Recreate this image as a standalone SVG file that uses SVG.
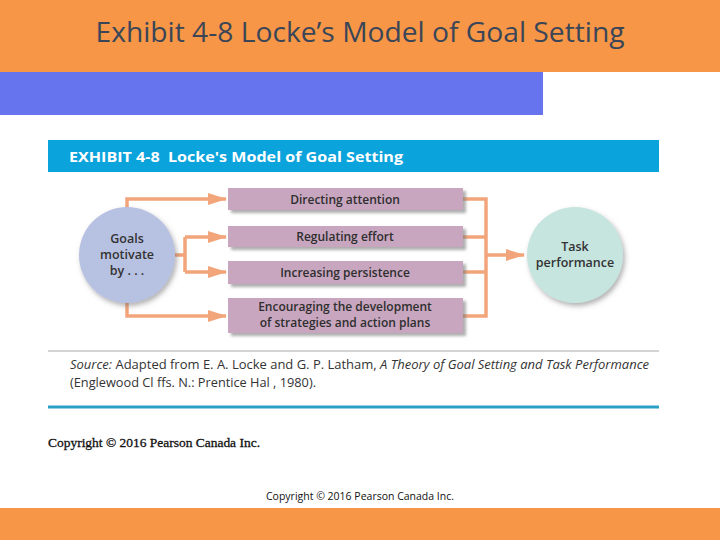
<svg xmlns="http://www.w3.org/2000/svg" width="720" height="540" viewBox="0 0 720 540">
<defs>
<style>
.box{fill:#c8a6bf;filter:url(#sh)}
.bt{font-family:"Open Sans","Liberation Sans",sans-serif;font-weight:600;font-size:12px;fill:#2e2e2e;text-anchor:middle}
.ct{font-family:"Open Sans","Liberation Sans",sans-serif;font-weight:600;font-size:12.5px;fill:#333;text-anchor:middle}
.con{fill:none;stroke:#f2a57a;stroke-width:3.5}
</style>
<filter id="sh" x="-10%" y="-20%" width="130%" height="160%">
<feDropShadow dx="3" dy="3" stdDeviation="1.5" flood-color="#777" flood-opacity="0.6"/>
</filter>
<filter id="csh" x="-20%" y="-20%" width="150%" height="150%">
<feDropShadow dx="2" dy="3" stdDeviation="2.5" flood-color="#666" flood-opacity="0.5"/>
</filter>
<marker id="ah" markerWidth="5.6" markerHeight="3.4" refX="5.2" refY="1.7" orient="auto" markerUnits="strokeWidth">
<path d="M0,0 L5.6,1.7 L0,3.4 Z" fill="#f2a57a"/>
</marker>
</defs>
<rect x="0" y="0" width="720" height="540" fill="#fff"/>
<rect x="0" y="0" width="720" height="72" fill="#f79646"/>
<rect x="0" y="72" width="543" height="43" fill="#6674ee"/>
<rect x="0" y="508" width="720" height="32" fill="#f79646"/>
<text x="360" y="42" text-anchor="middle" font-family="Open Sans, Liberation Sans, sans-serif" font-size="27" fill="#3a4658" textLength="529" lengthAdjust="spacingAndGlyphs">Exhibit 4-8 Locke’s Model of Goal Setting</text>

<rect x="48" y="140" width="611" height="32" fill="#0ba3dc"/>
<text x="69" y="162" font-family="Open Sans, Liberation Sans, sans-serif" font-weight="bold" font-size="15" fill="#fff" textLength="334" lengthAdjust="spacingAndGlyphs" xml:space="preserve">EXHIBIT 4-8  Locke's Model of Goal Setting</text>

<g id="connectors">
<path class="con" d="M127,208 V199 H226" marker-end="url(#ah)"/>
<path class="con" d="M127,302 V316 H226" marker-end="url(#ah)"/>
<path class="con" d="M175,255 H185"/>
<path class="con" d="M185,237 V272"/>
<path class="con" d="M185,237 H226" marker-end="url(#ah)"/>
<path class="con" d="M185,272 H226" marker-end="url(#ah)"/>
<path class="con" d="M463,199 H486 V316 H463"/>
<path class="con" d="M463,237 H486"/>
<path class="con" d="M463,272 H486"/>
<path class="con" d="M486,255 H524" marker-end="url(#ah)"/>
</g>

<g id="goals">
<circle cx="127" cy="255" r="48" fill="#b7c1e1" filter="url(#csh)"/>
<text class="ct" x="127" y="243">Goals</text>
<text class="ct" x="127" y="259">motivate</text>
<text class="ct" x="127" y="275">by . . .</text>
</g>
<g id="box1">
<rect class="box" x="228" y="188" width="235" height="22"/>
<text class="bt" x="345" y="204">Directing attention</text>
</g>
<g id="box2">
<rect class="box" x="228" y="226" width="235" height="21"/>
<text class="bt" x="345" y="241">Regulating effort</text>
</g>
<g id="box3">
<rect class="box" x="228" y="261" width="235" height="23"/>
<text class="bt" x="345" y="277">Increasing persistence</text>
</g>
<g id="box4">
<rect class="box" x="228" y="298" width="235" height="35"/>
<text class="bt" x="345" y="311">Encouraging the development</text>
<text class="bt" x="345" y="327">of strategies and action plans</text>
</g>
<g id="task">
<circle cx="575" cy="255" r="48" fill="#c6e5df" filter="url(#csh)"/>
<text class="ct" x="575" y="251" font-weight="500">Task</text>
<text class="ct" x="575" y="267" font-weight="500">performance</text>
</g>

<line x1="48" y1="351" x2="659" y2="351" stroke="#aaa" stroke-width="1"/>
<text x="70" y="369" font-family="Open Sans, Liberation Sans, sans-serif" font-size="12" fill="#333" textLength="579" lengthAdjust="spacingAndGlyphs"><tspan font-style="italic">Source:</tspan> Adapted from E. A. Locke and G. P. Latham, <tspan font-style="italic">A Theory of Goal Setting and Task Performance</tspan></text>
<text x="70" y="387" font-family="Open Sans, Liberation Sans, sans-serif" font-size="12" fill="#333" textLength="246" lengthAdjust="spacingAndGlyphs">(Englewood Cl ffs. N.: Prentice Hal , 1980).</text>
<line x1="48" y1="407" x2="659" y2="407" stroke="#2b9fc6" stroke-width="3"/>

<text x="48" y="447" font-family="Liberation Serif, serif" font-size="13" fill="#111" stroke="#111" stroke-width="0.3" textLength="212" lengthAdjust="spacingAndGlyphs">Copyright © 2016 Pearson Canada Inc.</text>
<text x="360" y="500" text-anchor="middle" font-family="Open Sans, Liberation Sans, sans-serif" font-size="10.5" fill="#111" textLength="188" lengthAdjust="spacingAndGlyphs">Copyright © 2016 Pearson Canada Inc.</text>
</svg>
